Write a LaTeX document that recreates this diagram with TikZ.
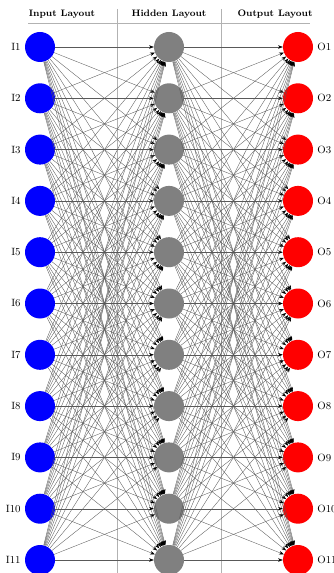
\documentclass[tikz,border=0pt]{standalone}
\usepackage{tikz}
\usetikzlibrary{arrows.meta}
\tikzstyle{tsNeuron} = [
    circle,
    minimum size=0.9cm,
    inner sep=0pt
]
\tikzstyle{tsInput} = [
    tsNeuron,
    fill=blue
]
\tikzstyle{tsHidden} = [
    tsNeuron,
    fill=gray
]
\tikzstyle{tsOutput} = [
    tsNeuron,
    fill=red
]
\tikzstyle{tsTag} = [
    text=black,
    font=\small
]
\tikzstyle{tsHeader} = [
    text=black,
    font=\bfseries\footnotesize
]
\tikzstyle{tsEdge} = [
    -{Stealth[length=4pt,width=3pt,black]},
    draw=black!65,
    line width=0.3pt
]
\tikzstyle{tsGuide} = [
    draw=gray!60,
    line width=0.5pt
]

\begin{document}
\begin{tikzpicture}[x=0.03cm, y=-0.03cm]

        \useasboundingbox (0,0) rectangle (333,573);
        \clip (0,0) rectangle (333,573);

        % layout headers
        \node[tsHeader] (hInput) at (62,14) {Input Layout};
        \node[tsHeader] (hHidden) at (169,14) {Hidden Layout};
        \node[tsHeader] (hOutput) at (275,14) {Output Layout};

        \draw[tsGuide] (28,23) -- (310,23);
        \draw[tsGuide] (117,9) -- (117,573);
        \draw[tsGuide] (221,9) -- (221,573);

        % neurons
        \foreach \i in {1,...,11} {
            \pgfmathsetmacro{\yy}{47+51.3*(\i-1)}
            \node[tsInput, label={[tsTag]left:I\i}] (I\i) at (40,\yy) {};
            \node[tsHidden] (H\i) at (169,\yy) {};
            \node[tsOutput, label={[tsTag]right:O\i}] (O\i) at (298,\yy) {};
        }

        % connections
        \foreach \s in {1,...,11}
            \foreach \d in {1,...,11} {
                \draw[tsEdge] (I\s) -- (H\d);
                \draw[tsEdge] (H\s) -- (O\d);
            }

\end{tikzpicture}
\end{document}
